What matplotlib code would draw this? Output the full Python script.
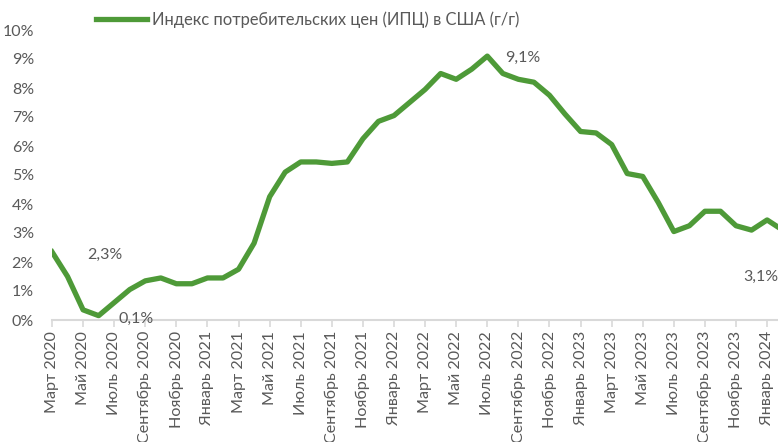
import matplotlib
matplotlib.use("Agg")
import matplotlib.pyplot as plt

plt.rcParams['font.family'] = ['Lato', 'DejaVu Sans']

# ИПЦ США, г/г, %
months = ['Март', 'Апрель', 'Май', 'Июнь', 'Июль', 'Август', 'Сентябрь', 'Октябрь',
          'Ноябрь', 'Декабрь', 'Январь', 'Февраль']
years = [2020] * 10 + [2021] * 12 + [2022] * 12 + [2023] * 12 + [2024] * 2
dates = [f"{months[i % 12]} {y}" for i, y in enumerate(years)]
cpi = [2.35, 1.5, 0.35, 0.15, 0.6, 1.05, 1.35, 1.45, 1.25, 1.25,
       1.45, 1.45, 1.75, 2.65, 4.25, 5.1, 5.45, 5.45, 5.4, 5.45, 6.25, 6.85,
       7.05, 7.5, 7.95, 8.5, 8.3, 8.65, 9.1, 8.5, 8.3, 8.2, 7.75, 7.1,
       6.5, 6.45, 6.05, 5.05, 4.95, 4.05, 3.05, 3.25, 3.75, 3.75, 3.25, 3.1,
       3.45, 3.1]
# подписи точек: (текст, x, y)
labels = [('2,3%', 3.4, 2.25), ('0,1%', 5.4, 0.05),
          ('9,1%', 30.3, 9.05), ('3,1%', 45.6, 1.5)]

green = '#4E9A38'
gray = '#595959'

fig = plt.figure(figsize=(7.78, 4.42), dpi=100)
ax = fig.add_axes([52 / 778, 122 / 442, 1 - 52 / 778, 290 / 442])

x = list(range(len(cpi)))
ax.plot(x, cpi, color=green, lw=3.8,
        label='Индекс потребительских цен (ИПЦ) в США (г/г)')

for txt, lx, ly in labels:
    ax.text(lx, ly, txt, ha='center', va='center', fontsize=11.5, color=gray)

ax.set_xlim(0, 46.7)
ax.set_ylim(0, 10)
ax.set_yticks(range(0, 11))
ax.set_yticklabels([f"{v}%" for v in range(0, 11)])
ax.set_xticks(x[::2])
ax.set_xticklabels(dates[::2], rotation=90)

for s in ['top', 'right', 'left']:
    ax.spines[s].set_visible(False)
ax.spines['bottom'].set_color('#D9D9D9')
ax.spines['bottom'].set_linewidth(1.5)
ax.tick_params(axis='y', length=0, pad=13, labelsize=11.5, labelcolor=gray)
ax.tick_params(axis='x', length=5, width=1.2, color='#D9D9D9', pad=3,
               labelsize=11.6, labelcolor=gray)

leg = fig.legend(loc='upper left', bbox_to_anchor=(84 / 778, 1.0), frameon=False,
                 fontsize=11.9, handlelength=3.1, handletextpad=0.3,
                 borderaxespad=0.3)
for t in leg.get_texts():
    t.set_color(gray)

fig.savefig('out.png', dpi=100)
